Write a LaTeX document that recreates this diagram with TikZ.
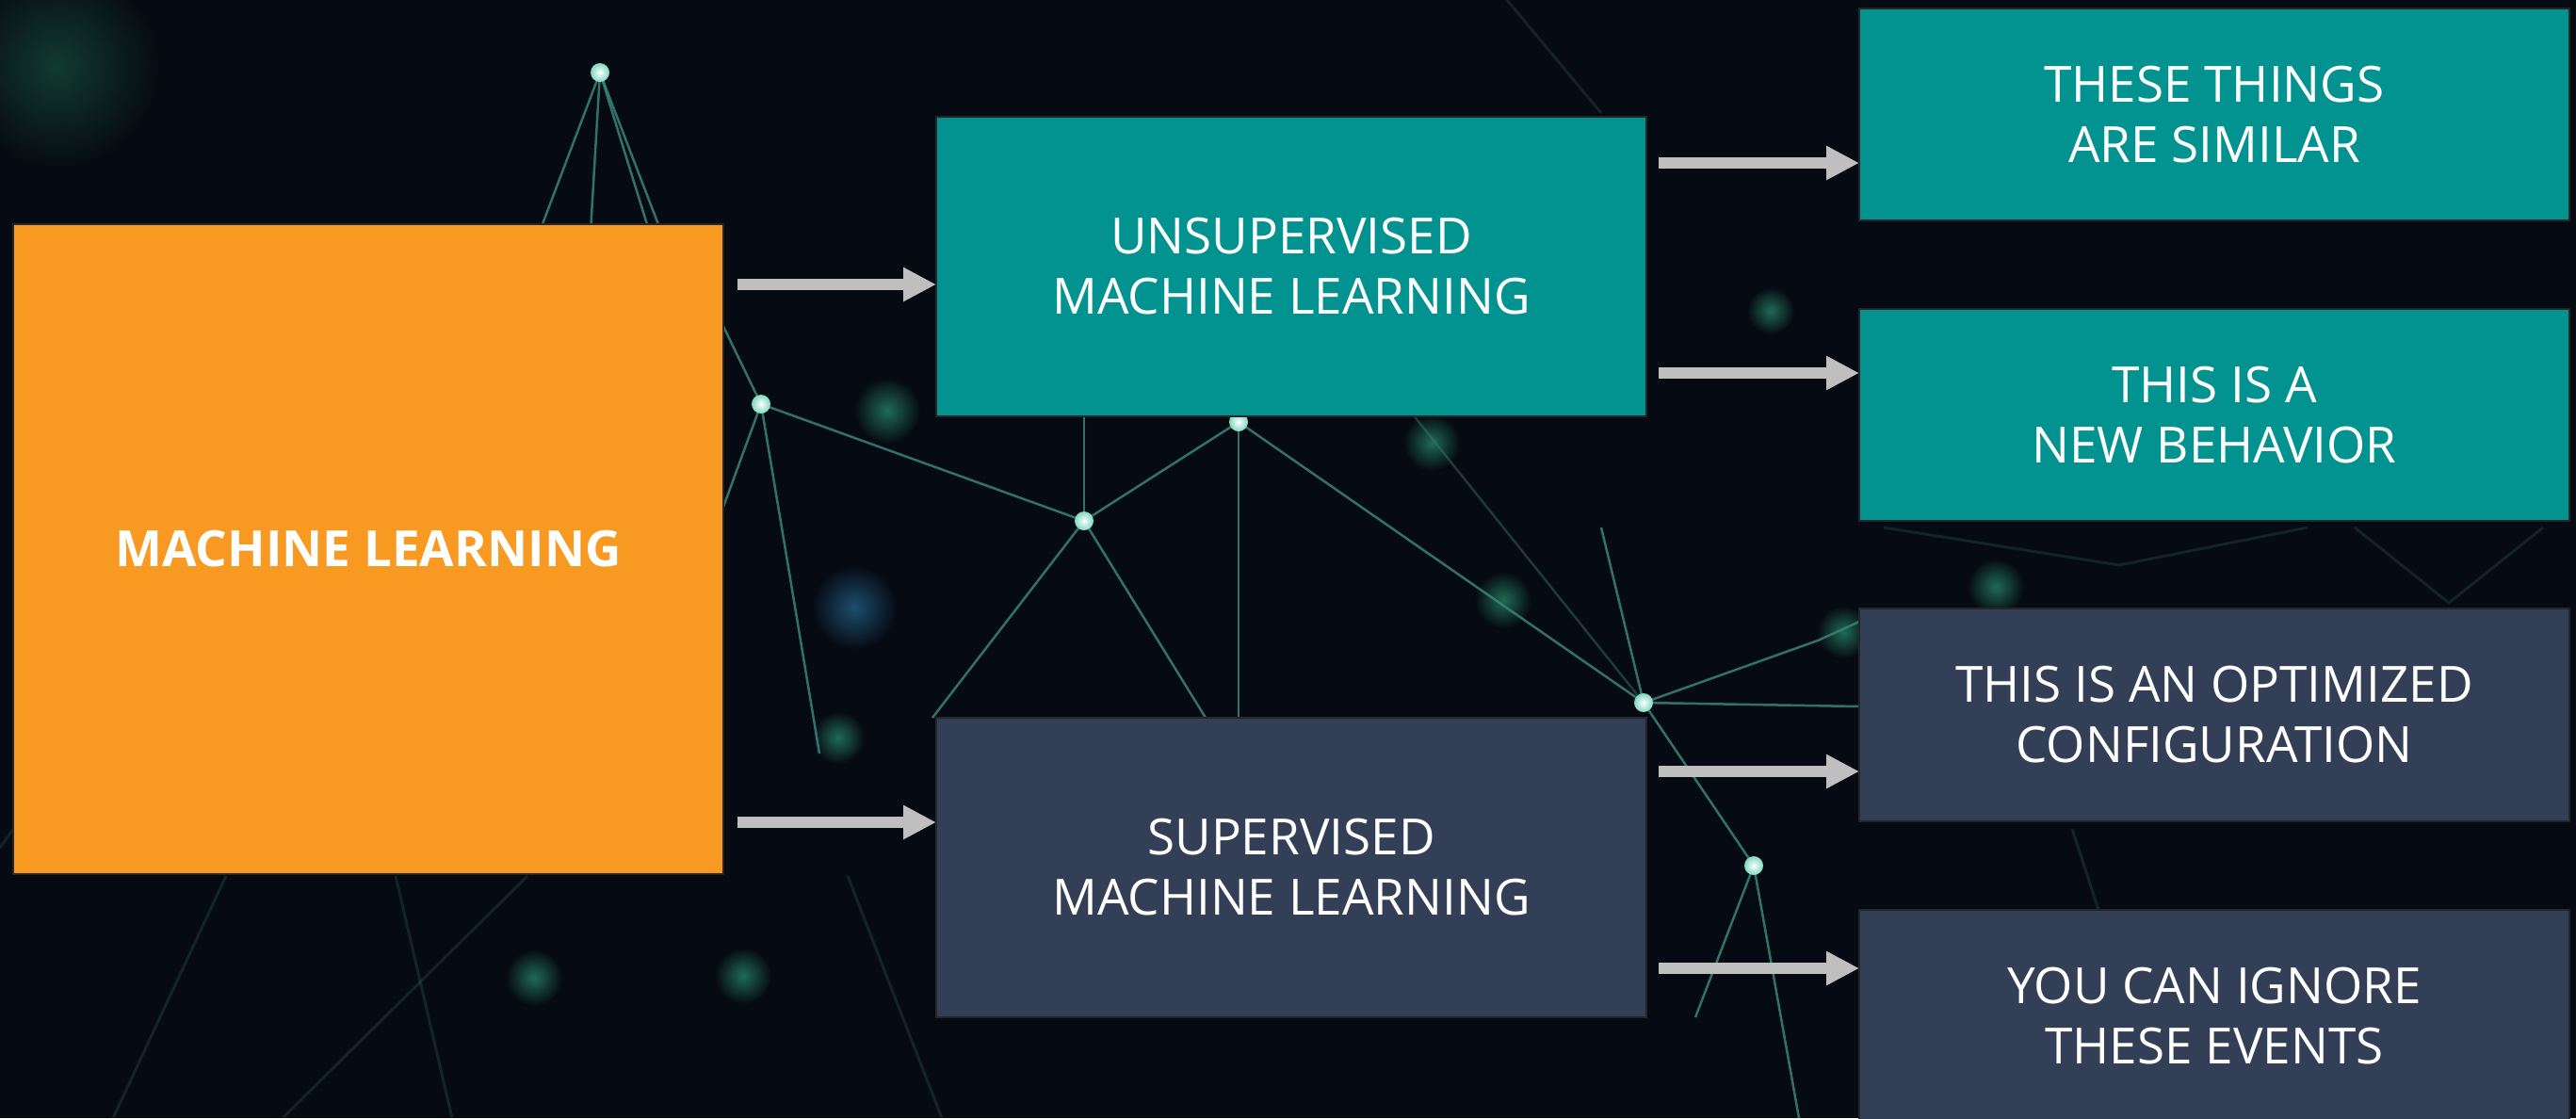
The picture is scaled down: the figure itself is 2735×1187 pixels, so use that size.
\documentclass[tikz,border=0pt]{standalone}
\usepackage{fontspec}
\setmainfont{Open Sans}
\usetikzlibrary{arrows.meta}
\definecolor{bgcol}{HTML}{060A12}
\definecolor{mlorange}{HTML}{F89A22}
\definecolor{tealc}{HTML}{02928F}
\definecolor{navyc}{HTML}{323F56}
\definecolor{arrowgray}{HTML}{BFBFBF}
\definecolor{netc}{HTML}{3A8479}
\definecolor{glowc}{HTML}{1F6B55}
\definecolor{glowd}{HTML}{123A30}
\definecolor{glowb}{HTML}{1D4E6E}
\definecolor{dotc}{HTML}{7FD8C0}
\tikzset{
  box/.style={draw=black!85, line width=1.5pt, inner sep=0pt, outer sep=0pt, text=white,
    align=center, font=\fontsize{53pt}{64pt}\selectfont, minimum width=754pt},
  tealbox/.style={box, fill=tealc},
  navybox/.style={box, fill=navyc},
  flow/.style={draw=arrowgray, line width=11.5pt, -{Triangle[width=34pt,length=35pt]}},
  net/.style={draw=netc, line width=2.5pt, opacity=0.85},
  faint/.style={draw=netc, line width=3pt, opacity=0.22},
}
\begin{document}
\begin{tikzpicture}[x=1pt,y=-1pt]
\clip (0,0) rectangle (2735,1187);
\fill[bgcol] (0,0) rectangle (2735,1187);
% glows
\shade[inner color=glowd, outer color=bgcol] (61,70) circle (110);
\foreach \x/\y/\r in {942/436/35, 1596/637/30, 567/1038/30, 789/1036/30, 890/783/28, 2119/623/30, 1957/671/28, 1880/330/25, 1520/470/30}
  \shade[inner color=glowc, outer color=bgcol] (\x,\y) circle (\r);
\shade[inner color=glowb, outer color=bgcol] (907,645) circle (45);
% faint background lines
\draw[faint] (300,1187) -- (560,930);
\draw[faint] (120,1187) -- (240,930);
\draw[faint] (480,1187) -- (420,930);
\draw[faint] (1000,1187) -- (900,930);
\draw[faint] (2000,560) -- (2250,600) -- (2450,560);
\draw[faint] (2300,1187) -- (2200,880);
\draw[faint] (0,900) -- (14,880);
\draw[faint] (1600,0) -- (1700,120);
\draw[faint] (2500,560) -- (2600,640) -- (2700,560);
% network lines
\draw[net] (637,77) -- (560,280);
\draw[net] (637,77) -- (625,280);
\draw[net] (637,77) -- (715,280);
\draw[net] (637,77) -- (700,280);
\draw[net] (760,330) -- (808,429) -- (1151,553);
\draw[net] (808,429) -- (760,560);
\draw[net] (808,429) -- (840,620) -- (870,800);
\draw[net] (1151,553) -- (1315,448);
\draw[net] (1151,553) -- (1151,440);
\draw[net] (1151,553) -- (990,762);
\draw[net] (1151,553) -- (1280,762);
\draw[net] (1315,448) -- (1745,746);
\draw[net] (1315,448) -- (1315,762);
\draw[net] (1745,746) -- (1974,750);
\draw[net] (1745,746) -- (1930,680) -- (1974,660);
\draw[net] (1745,746) -- (1862,919) -- (1910,1187);
\draw[net] (1745,746) -- (1700,560);
\draw[net] (1862,919) -- (1800,1080);
\draw[net, opacity=0.4] (1500,440) -- (1745,746);
% network nodes
\foreach \x/\y in {637/77, 808/429, 1151/553, 1315/448, 1745/746, 1862/919}
  \shade[inner color=white, outer color=dotc] (\x,\y) circle (10);
% boxes
\node[box, fill=mlorange, minimum height=690pt, font=\bfseries\fontsize{53pt}{64pt}\selectfont] (ml) at (391,583) {MACHINE LEARNING};
\node[tealbox, minimum height=318pt] (unsup) at (1371,283) {UNSUPERVISED\\MACHINE LEARNING};
\node[navybox, minimum height=318pt] (sup) at (1371,921) {SUPERVISED\\MACHINE LEARNING};
\node[tealbox, minimum height=225pt] (r1) at (2351,121.5) {THESE THINGS\\ARE SIMILAR};
\node[tealbox, minimum height=225pt] (r2) at (2351,440.5) {THIS IS A\\NEW BEHAVIOR};
\node[navybox, minimum height=226pt] (r3) at (2351,759) {THIS IS AN OPTIMIZED\\CONFIGURATION};
\node[navybox, minimum height=226pt] (r4) at (2351,1079) {YOU CAN IGNORE\\THESE EVENTS};
% arrow start points
\coordinate (s1) at (783,302);
\coordinate (s2) at (783,873);
\coordinate (s3) at (1761,173);
\coordinate (s4) at (1761,396);
\coordinate (s5) at (1761,819);
\coordinate (s6) at (1761,1028);
\draw[flow] (s1) -- (unsup.west |- s1);
\draw[flow] (s2) -- (sup.west |- s2);
\draw[flow] (s3) -- (r1.west |- s3);
\draw[flow] (s4) -- (r2.west |- s4);
\draw[flow] (s5) -- (r3.west |- s5);
\draw[flow] (s6) -- (r4.west |- s6);
\end{tikzpicture}
\end{document}
